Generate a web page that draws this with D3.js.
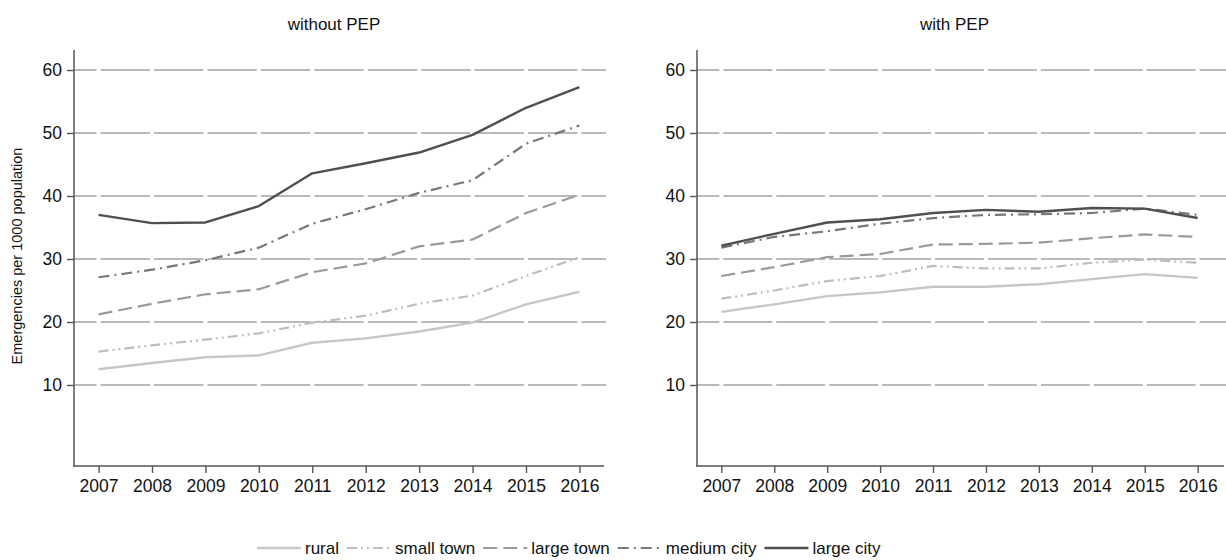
<!DOCTYPE html>
<html>
<head>
<meta charset="utf-8">
<script src="https://cdn.jsdelivr.net/npm/d3@7"></script>
<style>
  html, body { margin: 0; padding: 0; background: #fff; }
  svg { display: block; font-family: "Liberation Sans", Arial, Helvetica, sans-serif; }
</style>
</head>
<body>
<svg id="chart" width="1226" height="560"></svg>
<script>
// ---------- data ----------
const years = [2007, 2008, 2009, 2010, 2011, 2012, 2013, 2014, 2015, 2016];
const yTicks = [10, 20, 30, 40, 50, 60];
const seriesNames = ["rural", "small town", "large town", "medium city", "large city"];
const panelTitles = ["without PEP", "with PEP"];
const yTitle = "Emergencies per 1000 population";

// without PEP
const ruralNo      = [12.5, 13.5, 14.4, 14.7, 16.7, 17.4, 18.5, 19.9, 22.8, 24.8];
const smallTownNo  = [15.3, 16.3, 17.2, 18.2, 19.9, 21.0, 22.9, 24.2, 27.3, 30.3];
const largeTownNo  = [21.2, 22.9, 24.4, 25.2, 27.9, 29.3, 32.0, 33.1, 37.3, 40.2];
const mediumCityNo = [27.1, 28.3, 29.8, 31.8, 35.6, 37.9, 40.5, 42.5, 48.3, 51.2];
const largeCityNo  = [37.0, 35.7, 35.8, 38.4, 43.6, 45.2, 46.9, 49.7, 54.0, 57.3];

// with PEP
const ruralPep      = [21.6, 22.8, 24.1, 24.7, 25.6, 25.6, 26.0, 26.8, 27.6, 27.0];
const smallTownPep  = [23.7, 25.0, 26.5, 27.3, 28.9, 28.5, 28.5, 29.4, 29.9, 29.4];
const largeTownPep  = [27.3, 28.7, 30.3, 30.8, 32.3, 32.4, 32.6, 33.3, 33.9, 33.5];
const mediumCityPep = [31.8, 33.5, 34.4, 35.6, 36.5, 37.0, 37.1, 37.3, 38.0, 37.0];
const largeCityPep  = [32.1, 34.0, 35.8, 36.3, 37.3, 37.8, 37.5, 38.1, 38.0, 36.5];

const panelData = [
  [ruralNo, smallTownNo, largeTownNo, mediumCityNo, largeCityNo],
  [ruralPep, smallTownPep, largeTownPep, mediumCityPep, largeCityPep]
];

// ---------- styles ----------
const styles = [
  { color: "#c6c6c6", width: 2.4, dash: null },
  { color: "#bdbdbd", width: 2.2, dash: "10 4 2 4 2 4" },
  { color: "#9a9a9a", width: 2.2, dash: "14 6" },
  { color: "#777777", width: 2.2, dash: "11 5 2 5" },
  { color: "#4f4f4f", width: 2.4, dash: null }
];

const svg = d3.select("#chart");
const fontTick = 17.5;

const panels = [
  { axisX: 74,  rangeEnd: 604,  plotEnd: 606 },
  { axisX: 697, rangeEnd: 1222, plotEnd: 1226 }
];
const plotTop = 50, plotBottom = 466;

const y = d3.scaleLinear().domain([10, 60]).range([385, 70]);

// y axis title
svg.append("text")
  .attr("transform", `translate(18,256) rotate(-90)`)
  .attr("text-anchor", "middle")
  .attr("dominant-baseline", "middle")
  .attr("font-size", 14.5)
  .attr("fill", "#111")
  .text(yTitle);

panels.forEach((p, pi) => {
  const x = d3.scalePoint().domain(years).range([p.axisX, p.rangeEnd]).padding(0.46);
  const g = svg.append("g");
  const step = x.step();

  // gridlines (long dashes with gaps at year ticks)
  const gap = 4;
  const dashLen = step - gap;
  const firstGapStart = x(years[0]) - gap / 2;
  let off = dashLen - ((firstGapStart - p.axisX) % step);
  off = ((off % step) + step) % step;
  g.append("g").selectAll("line").data(yTicks).join("line")
    .attr("x1", p.axisX).attr("x2", p.plotEnd)
    .attr("y1", d => y(d)).attr("y2", d => y(d))
    .attr("stroke", "#a2a2a2")
    .attr("stroke-width", 1.5)
    .attr("stroke-dasharray", `${dashLen} ${gap}`)
    .attr("stroke-dashoffset", off);

  // y axis
  const yAxis = d3.axisLeft(y).tickValues(yTicks).tickSize(7).tickPadding(5);
  const ya = g.append("g").attr("transform", `translate(${p.axisX},0)`).call(yAxis);
  ya.select(".domain").remove();
  ya.selectAll(".tick line").attr("stroke", "#555").attr("stroke-width", 1.4);
  ya.selectAll(".tick text").attr("font-size", fontTick).attr("fill", "#111")
    .attr("font-family", "Liberation Sans, Arial, sans-serif");

  // x axis
  const xAxis = d3.axisBottom(x).tickSize(7).tickPadding(7);
  const xa = g.append("g").attr("transform", `translate(0,${plotBottom})`).call(xAxis);
  xa.select(".domain").remove();
  xa.selectAll(".tick line").attr("stroke", "#555").attr("stroke-width", 1.4);
  xa.selectAll(".tick text").attr("font-size", fontTick).attr("fill", "#111")
    .attr("font-family", "Liberation Sans, Arial, sans-serif");

  // axis lines
  g.append("line").attr("x1", p.axisX).attr("x2", p.axisX)
    .attr("y1", plotTop).attr("y2", plotBottom + 0.7)
    .attr("stroke", "#555").attr("stroke-width", 1.5);
  g.append("line").attr("x1", p.axisX - 0.7).attr("x2", p.plotEnd - 2)
    .attr("y1", plotBottom).attr("y2", plotBottom)
    .attr("stroke", "#555").attr("stroke-width", 1.5);

  // title
  g.append("text")
    .attr("x", (p.axisX + p.rangeEnd) / 2 - 5)
    .attr("y", 30)
    .attr("text-anchor", "middle")
    .attr("font-size", 17)
    .attr("fill", "#111")
    .text(panelTitles[pi]);

  // series lines
  const line = d3.line().x((d, i) => x(years[i])).y(d => y(d));
  panelData[pi].forEach((vals, si) => {
    const s = styles[si];
    g.append("path")
      .datum(vals)
      .attr("d", line)
      .attr("fill", "none")
      .attr("stroke", s.color)
      .attr("stroke-width", s.width)
      .attr("stroke-linejoin", "round")
      .attr("stroke-dasharray", s.dash);
  });
});

// legend
const legY = 548;
const symW = 44;
let lx = 257;
const leg = svg.append("g");
seriesNames.forEach((name, i) => {
  const s = styles[i];
  leg.append("line")
    .attr("x1", lx).attr("x2", lx + symW)
    .attr("y1", legY).attr("y2", legY)
    .attr("stroke", s.color).attr("stroke-width", s.width)
    .attr("stroke-dasharray", s.dash);
  const t = leg.append("text")
    .attr("x", lx + symW + 4)
    .attr("y", legY)
    .attr("dominant-baseline", "central")
    .attr("font-size", 17)
    .attr("fill", "#111")
    .text(name);
  const w = t.node().getComputedTextLength();
  lx += symW + 4 + w + 8;
});
</script>
</body>
</html>
